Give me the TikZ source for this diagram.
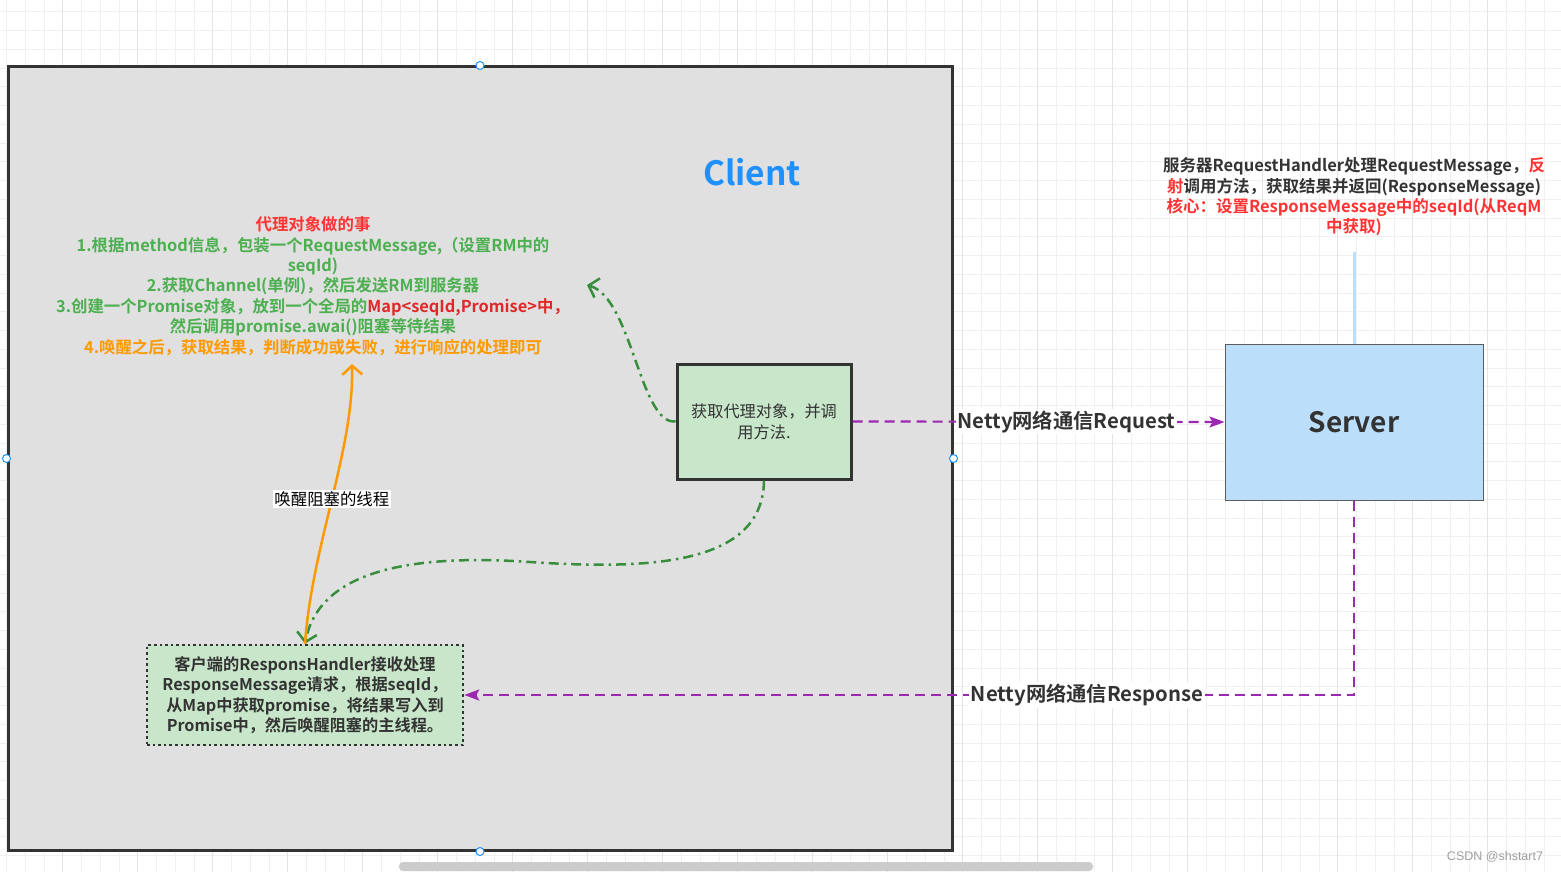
\documentclass[tikz,border=0pt]{standalone}
\usepackage{fontspec}
\setmainfont{Noto Sans CJK SC}[BoldFont={Noto Sans CJK SC Bold}]
\newfontfamily\markfont{Liberation Sans}
\usetikzlibrary{arrows.meta, positioning, calc}
\definecolor{clientgray}{RGB}{224,224,224}
\definecolor{boxedge}{RGB}{51,51,51}
\definecolor{proxygreen}{RGB}{200,230,201}
\definecolor{serverblue}{RGB}{187,222,251}
\definecolor{linkpurple}{RGB}{156,39,176}
\definecolor{stepgreen}{RGB}{76,175,80}
\definecolor{flowgreen}{RGB}{56,142,60}
\definecolor{wakeorange}{RGB}{255,153,0}
\definecolor{notered}{RGB}{255,51,51}
\definecolor{mapred}{RGB}{224,40,40}
\definecolor{titleblue}{RGB}{30,144,255}
\definecolor{gridline}{RGB}{240,240,240}
\definecolor{gridmajor}{RGB}{228,228,228}

\begin{document}
\begin{tikzpicture}[x=1pt, y=-1pt,
  frame/.style={draw=boxedge, line width=3pt, fill=clientgray},
  handle/.style={circle, draw=titleblue, fill=white, line width=1pt, minimum size=8pt, inner sep=0pt},
  procbox/.style={draw=boxedge, line width=3pt, fill=proxygreen, align=center, text=boxedge},
  dotbox/.style={draw=boxedge, line width=2.6pt, dash pattern=on 2.6pt off 3pt, fill=proxygreen, align=center, text=boxedge},
  netlink/.style={linkpurple, line width=2.2pt, dash pattern=on 10pt off 6pt, -{Stealth[length=15pt, width=11pt, inset=3pt]}},
  flow/.style={flowgreen, line width=2.5pt, dash pattern=on 10pt off 5pt on 2.5pt off 5pt, -{Straight Barb[length=9pt, width=20pt, line width=2.5pt]}},
  wake/.style={wakeorange, line width=2.5pt, -{Straight Barb[length=9pt, width=20pt, line width=2.5pt]}},
  linklabel/.style={fill=white, inner sep=1.5pt, text=boxedge, font=\bfseries\fontsize{20.3}{23}\selectfont}]
  \useasboundingbox (0,0) rectangle (1561,872);
  \fill[white] (0,0) rectangle (1561,872);
  % grid
  \foreach \gx in {6.5,25.25,...,1561} \draw[gridline, line width=0.8pt] (\gx,0) -- (\gx,872);
  \foreach \gy in {11.7,30.45,...,872} \draw[gridline, line width=0.8pt] (0,\gy) -- (1561,\gy);
  \foreach \gx in {62.75,137.75,...,1561} \draw[gridmajor, line width=0.8pt] (\gx,0) -- (\gx,872);

  \node (client) [frame, minimum width=944pt, minimum height=783pt] at (480,458.5) {};
  \node (title) [text=titleblue, font=\bfseries\fontsize{33.5}{36}\selectfont] at (752,172) {Client};

  \node (steps) [align=center, font=\bfseries\fontsize{16.4}{20.4}\selectfont, text=stepgreen] at (313,286)
    {{\color{notered}代理对象做的事}\\
     1.根据method信息，包装一个RequestMessage,（设置RM中的\\
     seqId)\\
     2.获取Channel(单例)，然后发送RM到服务器\\
     3.创建一个Promise对象，放到一个全局的{\color{mapred}Map<seqId,Promise>中，}\\
     然后调用promise.awai()阻塞等待结果\\
     {\color{wakeorange}4.唤醒之后，获取结果，判断成功或失败，进行响应的处理即可}};

  \node (proxy) [procbox, minimum width=174pt, minimum height=115pt, font=\fontsize{16.2}{21}\selectfont] at (764,421.5)
    {获取代理对象，并调\\用方法.};
  \node (server) [draw=boxedge!80, line width=1pt, fill=serverblue, minimum width=258pt, minimum height=156pt,
    text=boxedge, font=\bfseries\fontsize{28}{32}\selectfont] at (1354,422) {Server};
  \node (note) [align=center, text=boxedge, font=\bfseries\fontsize{16.5}{20.4}\selectfont] at (1354,197)
    {服务器RequestHandler处理RequestMessage，{\color{notered}反}\\
     {\color{notered}射}调用方法，获取结果并返回(ResponseMessage)\\
     {\color{notered}核心：设置ResponseMessage中的seqId(从ReqM}\\
     {\color{notered}中获取)}};
  \node (handler) [dotbox, minimum width=316pt, minimum height=100pt, font=\bfseries\fontsize{16.2}{20.4}\selectfont] at (305,695)
    {客户端的ResponsHandler接收处理\\
     ResponseMessage请求，根据seqId，\\
     从Map中获取promise，将结果写入到\\
     Promise中，然后唤醒阻塞的主线程。};

  \foreach \h in {north, south, east, west} \node[handle] at (client.\h) {};

  \coordinate (wakeup) at (352,364);
  \draw[serverblue, line width=3pt] (note.south) ++(0,12) -- (server.north);
  \draw[netlink] (proxy.east) -- node[linklabel, pos=0.575] (req) {Netty网络通信Request} (server.west);
  \draw[netlink] (server.south) |- node[linklabel, pos=0.65] (resp) {Netty网络通信Response} (handler.east);
  \draw[flow] (proxy.west) .. controls (640,425) and (632,298) .. (587,285);
  \draw[flow] (proxy.south) .. controls (763,565) and (650,570) .. (530,562)
    .. controls (400,553) and (318,575) .. (handler.north);
  \draw[wake] (handler.north) .. controls (312,545) and (354,450) .. node[pos=0.5, fill=white, inner sep=1.5pt, text=black,
    font=\fontsize{16.4}{18}\selectfont] (wakelabel) {唤醒阻塞的线程} (wakeup);

  \fill[gray!40, rounded corners=4pt] (399,862) rectangle (1093,871);
  \node (mark) [text=gray!75, font=\markfont\fontsize{12.5}{14}\selectfont] at (1495,857) {CSDN @shstart7};
\end{tikzpicture}
\end{document}
